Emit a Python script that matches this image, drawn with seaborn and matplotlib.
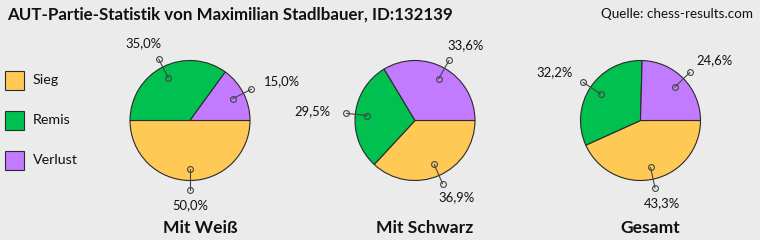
import matplotlib
matplotlib.use("Agg")
import matplotlib.pyplot as plt
import seaborn as sns
import numpy as np
from matplotlib.patches import Rectangle

# ---- data ----
categories = ["Sieg", "Remis", "Verlust"]
weiss = [50.0, 35.0, 15.0]
schwarz = [36.9, 29.5, 33.6]
gesamt = [43.3, 32.2, 24.6]
pie_titles = ["Mit Weiß", "Mit Schwarz", "Gesamt"]
title = "AUT-Partie-Statistik von Maximilian Stadlbauer, ID:132139"
source = "Quelle: chess-results.com"

colors = ["#FFC955", "#00C04F", "#C27AFE"]
bg = "#EBEBEB"

sns.set_theme(style="white", rc={"figure.facecolor": bg, "axes.facecolor": bg,
                                 "savefig.facecolor": bg})
plt.rcParams["font.family"] = ["Lato", "DejaVu Sans"]

W, H = 760, 240
fig = plt.figure(figsize=(W / 100, H / 100), dpi=100)
ax = fig.add_axes([0, 0, 1, 1])

R = 60
centers = [(190, H - 120.5), (415, H - 120.5), (640.5, H - 120.5)]
series = [weiss, schwarz, gesamt]

pal = sns.color_palette(colors)

for vals, (cx, cy), sub in zip(series, centers, pie_titles):
    ax.pie(vals, colors=pal, startangle=0, counterclock=False,
           center=(cx, cy), radius=R, frame=True,
           wedgeprops=dict(edgecolor="#2a2a2a", linewidth=0.8))
    total = float(sum(vals))
    cum = 0.0
    for v in vals:
        frac = v / total
        mid = -np.deg2rad((cum + frac / 2) * 360)
        cum += frac
        c, s = np.cos(mid), np.sin(mid)
        xi, yi = cx + 0.8 * R * c, cy + 0.8 * R * s
        xo, yo = cx + 1.15 * R * c, cy + 1.15 * R * s
        ax.plot([xi, xo], [yi, yo], color="#444444", lw=0.8, zorder=5)
        ax.plot([xi, xo], [yi, yo], ls="none", marker="o", ms=4.2,
                mfc="none", mec="#444444", mew=0.8, zorder=6)
        lx, ly = cx + 1.72 * R * c, cy + 1.42 * R * s
        ax.text(lx, ly + 1, f"{v:.1f}".replace(".", ",") + "%",
                ha="center", va="center", fontsize=9.4, color="#111111")
    ax.text(cx + 10, 7, sub, ha="center", va="baseline", fontsize=12.6,
            fontweight="bold", color="#111111")

# legend
for i, (cat, col) in enumerate(zip(categories, pal)):
    yc = H - (80 + 40 * i)
    ax.add_patch(Rectangle((4.5, yc - 10), 19.5, 19.5, facecolor=col,
                           edgecolor="#2a2a2a", lw=0.8))
    ax.text(33, yc, cat, ha="left", va="center", fontsize=10.3, color="#111111")

ax.text(7, H - 20, title, ha="left", va="baseline", fontsize=12.2,
        fontweight="bold", color="#111111")
ax.text(753, H - 18, source, ha="right", va="baseline", fontsize=9.7,
        color="#111111")

ax.set_xlim(0, W)
ax.set_ylim(0, H)
ax.set_aspect("auto")
ax.axis("off")

fig.savefig("out.png", dpi=100, facecolor=bg)
